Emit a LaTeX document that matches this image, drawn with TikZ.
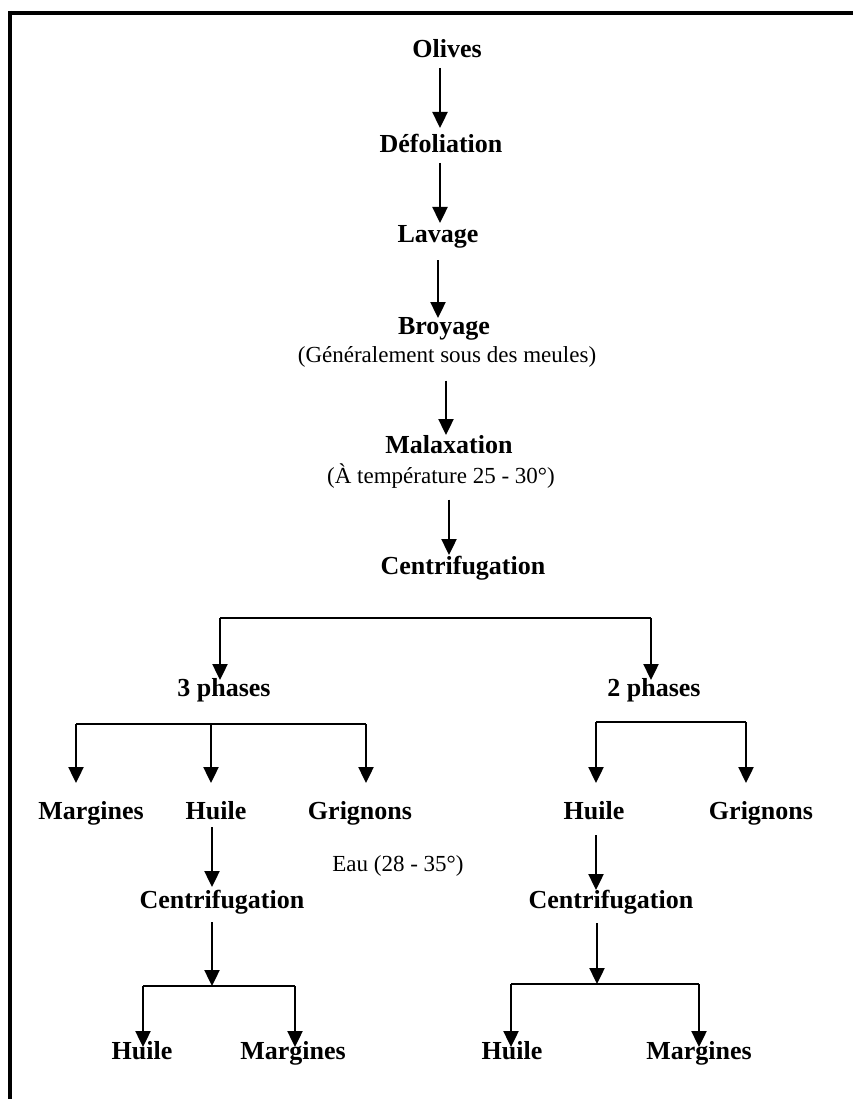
\documentclass[tikz,border=0pt]{standalone}
\usepackage{fontspec}
\setmainfont{Liberation Serif}
\usetikzlibrary{arrows.meta,calc}
\begin{document}
\begin{tikzpicture}[x=1pt,y=-1pt,
  lbl/.style={inner sep=0pt,outer sep=0pt,text height=18pt,text depth=6pt,anchor=center,font=\fontsize{26}{30}\selectfont\bfseries},
  note/.style={inner sep=0pt,outer sep=0pt,text height=16pt,text depth=5pt,anchor=center,font=\fontsize{23}{27}\selectfont},
  link/.style={line width=2.4pt},
  arr/.style={line width=2.4pt,-{Triangle[length=16pt,width=15pt]}},
  frameline/.style={line width=4pt}]
\useasboundingbox (0,0) rectangle (853,1099);
% frame (top and left edges)
\coordinate (fA) at (8,13);
\coordinate (fB) at (853,13);
\coordinate (fC) at (10,1099);
\coordinate (fD) at (10,11);
\draw[frameline] (fA) -- (fB);
\draw[frameline] (fD) -- (fC);
% nodes
\node[lbl] (olives) at (447,52) {Olives};
\node[lbl] (defol) at (441,147) {Défoliation};
\node[lbl] (lavage) at (438,236) {Lavage};
\node[lbl] (broyage) at (444,328) {Broyage};
\node[note] (broynote) at (447,357) {(Généralement sous des meules)};
\node[lbl] (malax) at (449,447) {Malaxation};
\node[note] (malaxnote) at (441,478) {(À température 25 - 30°)};
\node[lbl] (centri) at (463,568) {Centrifugation};
\node[lbl] (p3) at (224,690) {3 phases};
\node[lbl] (p2) at (654,690) {2 phases};
\node[lbl] (marg1) at (91,813) {Margines};
\node[lbl] (huile1) at (216,813) {Huile};
\node[lbl] (grig1) at (360,813) {Grignons};
\node[lbl] (huile2) at (594,813) {Huile};
\node[lbl] (grig2) at (761,813) {Grignons};
\node[note] (eau) at (398,866) {Eau (28 - 35°)};
\node[lbl] (centri1) at (222,902) {Centrifugation};
\node[lbl] (centri2) at (611,902) {Centrifugation};
\node[lbl] (huile3) at (142,1053) {Huile};
\node[lbl] (marg3) at (293,1053) {Margines};
\node[lbl] (huile4) at (512,1053) {Huile};
\node[lbl] (marg4) at (699,1053) {Margines};
% main chain
\draw[arr] ($(olives.south)+(-7pt,-4pt)$) -- ($(defol.north)+(-1pt,7pt)$);
\draw[arr] ($(defol.south)+(-1pt,-4pt)$) -- ($(lavage.north)+(2pt,1pt)$);
\draw[arr] ($(lavage.south)+(0pt,-12pt)$) -- ($(broyage.north)+(-6pt,-2pt)$);
\draw[arr] ($(broynote.south)+(-1pt,-13pt)$) -- ($(malax.north)+(-3pt,0pt)$);
\draw[arr] ($(malaxnote.south)+(8pt,-11pt)$) -- ($(centri.north)+(-14pt,1pt)$);
% first split
\coordinate (b1l) at (220,618);
\coordinate (b1r) at (651,618);
\draw[link] (b1l) -- (b1r);
\draw[arr] (b1l) -- ($(b1l |- p3.north)+(0,-2pt)$);
\draw[arr] (b1r) -- ($(b1r |- p2.north)+(0,-2pt)$);
% 3 phases split
\coordinate (b2a) at (76,724);
\coordinate (b2b) at (211,724);
\coordinate (b2c) at (366,724);
\draw[link] (b2a) -- (b2c);
\draw[arr] (b2a) -- ($(b2a |- marg1.north)+(0,18pt)$);
\draw[arr] (b2b) -- ($(b2b |- huile1.north)+(0,18pt)$);
\draw[arr] (b2c) -- ($(b2c |- grig1.north)+(0,18pt)$);
% 2 phases split
\coordinate (b2d) at (596,722);
\coordinate (b2e) at (746,722);
\draw[link] (b2d) -- (b2e);
\draw[arr] (b2d) -- ($(b2d |- huile2.north)+(0,18pt)$);
\draw[arr] (b2e) -- ($(b2e |- grig2.north)+(0,18pt)$);
% Huile -> Centrifugation
\draw[arr] ($(huile1.south)+(-4pt,-2pt)$) -- ($(centri1.north)+(-10pt,3pt)$);
\draw[arr] ($(huile2.south)+(2pt,-10pt)$) -- ($(centri2.north)+(-15pt,0pt)$);
% left second centrifugation split
\coordinate (b3m) at (212,986);
\coordinate (b3l) at (143,986);
\coordinate (b3r) at (295,986);
\draw[arr] ($(centri1.south)+(-10pt,-8pt)$) -- (b3m);
\draw[link] (b3l) -- (b3r);
\draw[arr] (b3l) -- ($(b3l |- huile3.north)+(0,-6pt)$);
\draw[arr] (b3r) -- ($(b3r |- marg3.north)+(0,-6pt)$);
% right second centrifugation split
\coordinate (b4m) at (597,984);
\coordinate (b4l) at (511,984);
\coordinate (b4r) at (699,984);
\draw[arr] ($(centri2.south)+(-14pt,-9pt)$) -- (b4m);
\draw[link] (b4l) -- (b4r);
\draw[arr] (b4l) -- ($(b4l |- huile4.north)+(0,-6pt)$);
\draw[arr] (b4r) -- ($(b4r |- marg4.north)+(0,-6pt)$);
\end{tikzpicture}
\end{document}
